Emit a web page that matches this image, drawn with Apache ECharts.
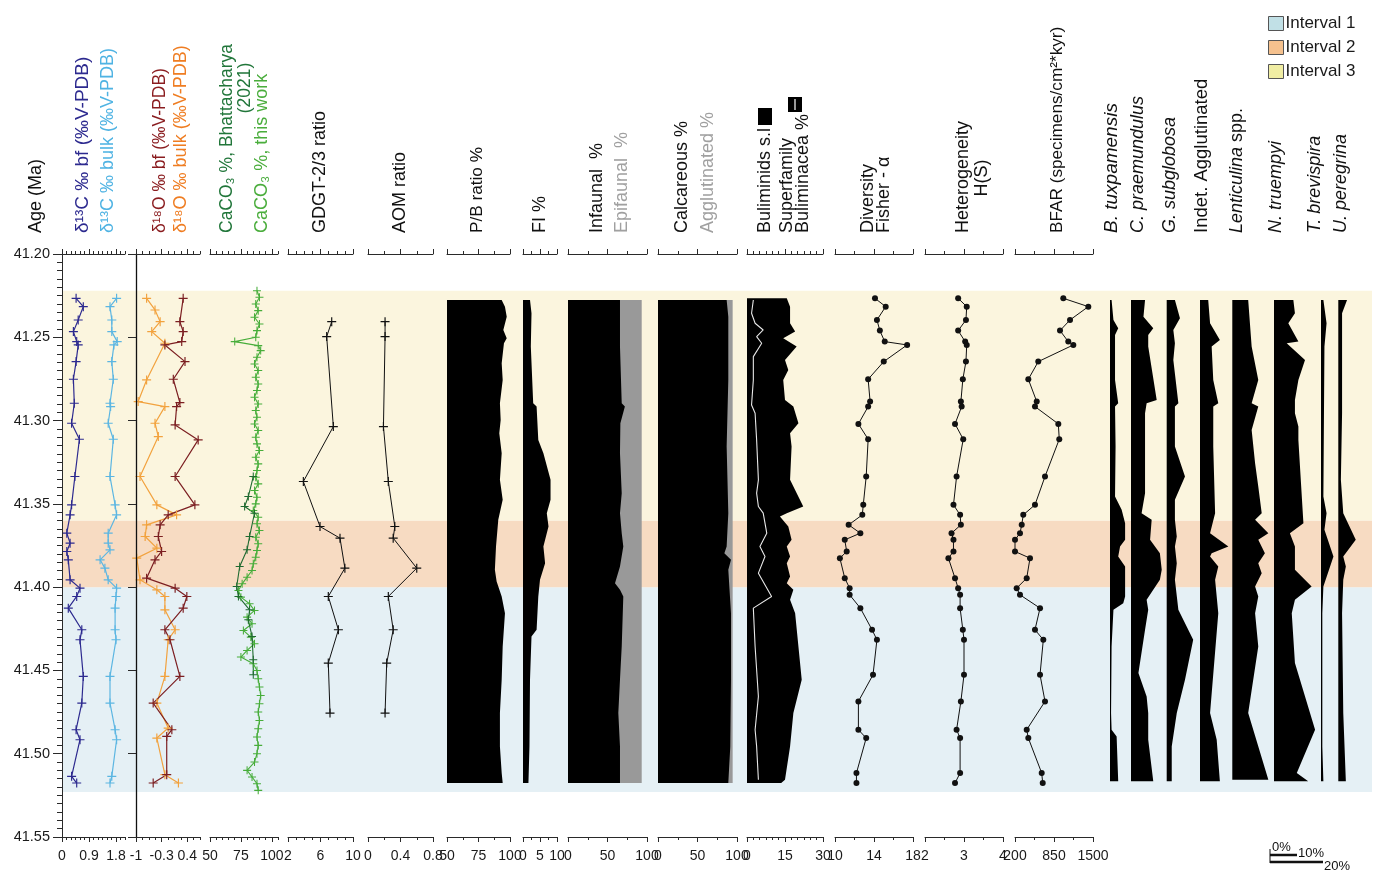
<!DOCTYPE html>
<html><head><meta charset="utf-8">
<script src="https://cdn.jsdelivr.net/npm/echarts@6/dist/echarts.min.js"></script>
<style>html,body{margin:0;padding:0;background:#fff}#c{width:1378px;height:873px}</style>
</head><body><div id="c"></div>
<script>
// ---------------- DATA (age in Ma, value) ----------------
const ageTickLabels = [41.20, 41.25, 41.30, 41.35, 41.40, 41.45, 41.50, 41.55];
const intervalNames = ['Interval 1', 'Interval 2', 'Interval 3'];
const intervalBounds = [[41.400, 41.523], [41.360, 41.400], [41.222, 41.360]];

const d13cBf = [[41.2266,0.47],[41.2316,0.71],[41.2396,0.54],[41.2466,0.38],[41.2526,0.49],[41.2546,0.54],[41.2646,0.47],[41.2752,0.38],[41.2896,0.41],[41.3016,0.32],[41.3112,0.58],[41.3336,0.43],[41.3506,0.32],[41.3566,0.27],[41.3676,0.16],[41.3736,0.27],[41.3786,0.16],[41.3836,0.21],[41.3956,0.27],[41.4006,0.60],[41.4056,0.49],[41.4126,0.21],[41.4256,0.66],[41.4316,0.60],[41.4536,0.71],[41.4696,0.66],[41.4856,0.47],[41.4916,0.60],[41.5136,0.32],[41.5176,0.49]];
const d13cBulk = [[41.2266,1.82],[41.2316,1.60],[41.2396,1.66],[41.2466,1.66],[41.2526,1.84],[41.2546,1.73],[41.2646,1.66],[41.2752,1.71],[41.2896,1.60],[41.2916,1.62],[41.3016,1.54],[41.3112,1.71],[41.3336,1.60],[41.3506,1.77],[41.3566,1.82],[41.3676,1.54],[41.3736,1.54],[41.3776,1.60],[41.3836,1.27],[41.3886,1.43],[41.3956,1.54],[41.4006,1.82],[41.4056,1.80],[41.4126,1.77],[41.4256,1.77],[41.4316,1.80],[41.4536,1.60],[41.4696,1.60],[41.4856,1.77],[41.4916,1.82],[41.5136,1.66],[41.5176,1.60]];
const d18oBf = [[41.2266,0.29],[41.2406,0.20],[41.2466,0.29],[41.2526,0.25],[41.2546,-0.21],[41.2646,0.34],[41.2752,0.02],[41.2892,0.20],[41.2916,0.11],[41.3026,0.07],[41.3116,0.70],[41.3336,0.07],[41.3506,0.61],[41.3566,-0.12],[41.3626,-0.34],[41.3696,-0.39],[41.3786,-0.30],[41.3836,-0.48],[41.3946,-0.71],[41.4006,0.07],[41.4056,0.39],[41.4126,0.29],[41.4256,-0.21],[41.4316,-0.07],[41.4536,0.20],[41.4696,-0.53],[41.4856,-0.02],[41.4896,-0.16],[41.5126,-0.16],[41.5176,-0.53]];
const d18oBulk = [[41.2266,-0.71],[41.2336,-0.48],[41.2406,-0.34],[41.2466,-0.57],[41.2536,-0.21],[41.2756,-0.71],[41.2886,-0.94],[41.2916,-0.21],[41.3016,-0.48],[41.3096,-0.39],[41.3336,-0.89],[41.3506,-0.43],[41.3566,0.11],[41.3626,-0.71],[41.3696,-0.75],[41.3766,-0.43],[41.3826,-0.98],[41.3956,-0.89],[41.4016,-0.43],[41.4056,-0.21],[41.4136,-0.21],[41.4256,0.07],[41.4316,-0.12],[41.4536,-0.21],[41.4696,-0.43],[41.4846,-0.12],[41.4906,-0.43],[41.5126,-0.21],[41.5176,0.16]];
const caco3Bhatt = [[41.3336,85],[41.3456,81],[41.3516,78],[41.3556,86],[41.3696,82],[41.3776,80],[41.3876,74],[41.3996,71.6],[41.4056,73],[41.4136,82],[41.4196,81],[41.4296,84],[41.4436,85],[41.4526,85]];
const caco3ThisWork = [[41.222,88],[41.226,90],[41.230,87],[41.234,89],[41.238,86],[41.242,90],[41.246,88],[41.250,87],[41.2526,70],[41.255,89],[41.258,91],[41.262,88],[41.266,86],[41.270,89],[41.274,87],[41.278,89],[41.282,88],[41.286,86],[41.290,89],[41.294,87],[41.298,88],[41.302,86],[41.306,89],[41.310,87],[41.314,88],[41.318,90],[41.322,87],[41.326,89],[41.330,88],[41.334,87],[41.338,89],[41.342,86],[41.346,88],[41.350,87],[41.354,85],[41.358,89],[41.362,88],[41.366,90],[41.370,87],[41.374,89],[41.378,88],[41.382,87],[41.386,85],[41.390,84],[41.394,80],[41.398,76],[41.402,73],[41.406,75],[41.410,82],[41.414,86],[41.418,80],[41.422,84],[41.426,77],[41.430,83],[41.434,86],[41.438,80],[41.442,75],[41.446,85],[41.450,88],[41.455,89],[41.460,90],[41.465,91],[41.470,90],[41.475,89],[41.480,90],[41.485,89],[41.490,88],[41.495,89],[41.500,88],[41.505,86],[41.510,80],[41.514,84],[41.518,88],[41.522,89]];
const gdgt = [[41.2406,7.38],[41.2496,6.76],[41.3036,7.58],[41.3366,3.89],[41.3636,5.94],[41.3706,8.4],[41.3886,9.0],[41.4056,6.96],[41.4256,8.2],[41.4456,6.96],[41.4756,7.17]];
const aom = [[41.2406,0.21],[41.2496,0.21],[41.3036,0.19],[41.3366,0.25],[41.3636,0.33],[41.3706,0.31],[41.3886,0.60],[41.4056,0.25],[41.4256,0.31],[41.4456,0.23],[41.4756,0.21]];
const pbRatio = [[41.2276,93.4],[41.2316,96],[41.2376,97.4],[41.2456,94.7],[41.2506,97.4],[41.2536,95.2],[41.2656,93.4],[41.2756,94.2],[41.2896,92],[41.2996,92.6],[41.3076,91.5],[41.3196,93.4],[41.3356,92],[41.3476,94.2],[41.3596,90.7],[41.3756,88.9],[41.3896,88],[41.3966,89.4],[41.4056,93.4],[41.4156,96],[41.4356,94.2],[41.4556,93.4],[41.4756,92],[41.4956,92],[41.5116,93.4],[41.5176,94.2]];
const fiPct = [[41.2276,2.06],[41.2356,2.5],[41.2556,2.3],[41.2896,3.0],[41.2916,4.0],[41.3116,4.5],[41.3196,6.0],[41.3356,8.1],[41.3476,8.1],[41.3556,7.0],[41.3636,7.5],[41.3756,6.0],[41.3856,6.5],[41.3956,5.0],[41.4056,4.5],[41.4256,4.0],[41.4296,2.5],[41.4556,2.06],[41.4956,1.9],[41.5176,1.6]];
const infaunal = [[41.2276,65.8],[41.2556,65.8],[41.2896,68],[41.2916,72],[41.3016,66.3],[41.3196,65.8],[41.3436,68],[41.3556,65.8],[41.3676,68],[41.3756,70],[41.3876,65.8],[41.3976,59.5],[41.4016,65.8],[41.4056,70],[41.4356,68],[41.4556,65.8],[41.4756,63.7],[41.4956,65.8],[41.5176,65.8]];
const epifaunal = [27.5,27.5,25.3,21.3,27.0,27.5,25.3,27.5,25.3,23.3,27.5,33.8,27.5,23.3,25.3,27.5,29.6,27.5,27.5];
const calcareous = [[41.2276,86.9],[41.2376,89],[41.2756,89],[41.3156,86.9],[41.3556,89],[41.3756,86.9],[41.3796,84.0],[41.3836,92.4],[41.3896,89],[41.4156,92.4],[41.4556,92.4],[41.4956,91.5],[41.5176,89]];
const agglutinated = [7.6,5.5,5.5,7.6,5.5,7.6,10.5,2.1,5.5,2.1,2.1,3.0,5.5];
const buliminids = [[41.2266,15.7],[41.2316,17.0],[41.2416,17.0],[41.2466,19.0],[41.2506,14.3],[41.2556,19.6],[41.2636,15.0],[41.2696,16.3],[41.2756,14.3],[41.2876,15.0],[41.2916,18.3],[41.3016,20.3],[41.3076,17.0],[41.3156,17.6],[41.3356,17.0],[41.3516,22.2],[41.3556,15.7],[41.3576,13.0],[41.3636,16.3],[41.3716,17.6],[41.3756,15.7],[41.3816,17.0],[41.3856,15.7],[41.3936,17.0],[41.3976,15.7],[41.4016,18.3],[41.4076,17.0],[41.4156,19.0],[41.4556,21.6],[41.4756,18.3],[41.4956,17.0],[41.5156,15.0],[41.5176,13.5]];
const buliminacea = [[41.2276,2.5],[41.2356,1.8],[41.2416,3.2],[41.2456,6.4],[41.2496,3.8],[41.2536,5.8],[41.2616,2.5],[41.2756,2.5],[41.2906,1.8],[41.2956,3.2],[41.3116,3.8],[41.3356,4.5],[41.3436,3.8],[41.3516,4.5],[41.3556,6.4],[41.3676,7.8],[41.3756,5.1],[41.3816,7.1],[41.3916,4.5],[41.4056,9.7],[41.4126,2.5],[41.4356,3.2],[41.4656,4.5],[41.4856,3.2],[41.4956,3.8],[41.5156,4.5]];
const benthicAges = [41.2266,41.2316,41.2396,41.2460,41.2526,41.2546,41.2646,41.2752,41.2886,41.2916,41.3020,41.3112,41.3336,41.3506,41.3566,41.3626,41.3676,41.3716,41.3786,41.3826,41.3946,41.4006,41.4046,41.4126,41.4256,41.4316,41.4526,41.4686,41.4856,41.4906,41.5116,41.5176];
const fisherAlpha = [14.1,15.2,14.3,14.6,15.1,17.4,15.0,13.4,13.6,13.4,12.4,13.4,13.2,12.9,12.8,11.4,12.6,11.0,11.2,10.5,11.0,11.5,11.5,12.6,13.8,14.3,13.9,12.4,12.4,13.2,12.2,12.2];
const heterogeneity = [2.85,3.07,3.05,2.85,3.03,3.07,3.05,2.97,2.92,2.94,2.77,2.98,2.81,2.73,2.90,2.92,2.68,2.73,2.73,2.60,2.77,2.85,2.90,2.90,2.97,3.00,3.00,2.92,2.81,2.90,2.90,2.77];
const bfar = [1005,1422,1117,950,1088,1172,588,422,562,533,922,938,700,533,338,312,283,200,200,450,395,228,283,617,533,672,617,700,395,422,645,662];
// species relative abundance (%)
const bTuxpamensis = [[41.2276,0.6],[41.2396,1.3],[41.2446,3.1],[41.2486,1.9],[41.2756,1.9],[41.2896,3.1],[41.2916,1.9],[41.3156,2.1],[41.3456,1.9],[41.3536,4.4],[41.3616,5.7],[41.3716,5.7],[41.3756,3.8],[41.3816,3.1],[41.3876,5.7],[41.4056,5.7],[41.4096,5.0],[41.4136,1.3],[41.4356,0.6],[41.4756,0.4],[41.4856,0.6],[41.4896,2.5],[41.5166,3.1]];
const cPraemundulus = [[41.2276,5.3],[41.2376,4.7],[41.2446,8.4],[41.2486,6.5],[41.2556,6.5],[41.2876,9.7],[41.2896,5.9],[41.2956,5.3],[41.3436,5.3],[41.3556,4.0],[41.3596,7.8],[41.3716,7.2],[41.3796,10.9],[41.3896,11.6],[41.3956,10.9],[41.4076,5.9],[41.4136,6.5],[41.4256,5.3],[41.4516,2.8],[41.4656,5.9],[41.4756,6.5],[41.4916,6.5],[41.5166,8.4]];
const gSubglobosa = [[41.2276,3.1],[41.2386,5.0],[41.2456,2.5],[41.2536,3.1],[41.2636,2.5],[41.2896,4.4],[41.2916,3.1],[41.3156,3.1],[41.3336,6.9],[41.3476,3.1],[41.3596,3.1],[41.3696,3.8],[41.3756,3.1],[41.3856,3.8],[41.3956,3.1],[41.4136,4.4],[41.4316,10.0],[41.4556,6.9],[41.4756,3.8],[41.4956,1.9],[41.5166,1.9]];
const indetAgglutinated = [[41.2276,3.1],[41.2416,3.8],[41.2516,7.5],[41.2556,4.4],[41.2756,5.0],[41.2896,6.9],[41.2916,5.0],[41.3156,5.0],[41.3556,5.7],[41.3676,3.8],[41.3756,10.7],[41.3796,4.4],[41.3816,3.8],[41.3876,6.9],[41.3956,5.7],[41.4156,6.9],[41.4756,3.8],[41.4916,6.3],[41.5166,7.5]];
const lenticulina = [[41.2276,6.0],[41.2556,7.3],[41.2756,9.8],[41.2896,7.3],[41.2916,9.8],[41.3056,7.3],[41.3256,8.6],[41.3396,9.8],[41.3556,11.1],[41.3596,8.6],[41.3676,13.6],[41.3716,9.8],[41.3796,12.3],[41.3856,9.8],[41.3916,11.1],[41.3996,8.6],[41.4056,9.8],[41.4156,8.6],[41.4356,9.8],[41.4756,6.0],[41.5156,13.6]];
const nTruempyi = [[41.2276,7.3],[41.2356,7.9],[41.2416,5.4],[41.2526,9.2],[41.2536,4.8],[41.2636,11.7],[41.2756,9.2],[41.2876,7.9],[41.2956,7.9],[41.3036,9.2],[41.3116,9.2],[41.3616,11.1],[41.3676,6.0],[41.3756,7.9],[41.3896,7.9],[41.3996,14.2],[41.4076,7.9],[41.4156,6.7],[41.4456,7.9],[41.4856,15.5],[41.5116,8.6],[41.5166,12.9]];
const tBrevispira = [[41.2276,0.9],[41.2416,2.1],[41.2556,1.3],[41.3456,0.9],[41.3556,2.1],[41.3656,1.3],[41.3816,4.7],[41.3996,0.9],[41.4156,0.5],[41.4956,0.5],[41.5166,0.9]];
const uPeregrina = [[41.2276,4.4],[41.2356,1.9],[41.2956,1.9],[41.3356,1.3],[41.3556,2.5],[41.3716,8.8],[41.3816,2.5],[41.3876,3.8],[41.3956,2.5],[41.4156,1.9],[41.4756,2.5],[41.5166,3.8]];

// ---------------- STYLE / LAYOUT ----------------
const FONT = "'Liberation Sans', Arial, Helvetica, sans-serif";
const AX = '#2a2a2a';
const TOP = 254, HEIGHT = 583;
const AGE_MIN = 41.20, AGE_MAX = 41.55;
const bandColors = ['#e5f0f5', '#f7dbc2', '#fbf5de'];
const legendColors = ['#c1e0e6', '#f5c18e', '#f0eda3'];
const PLUS = 'path://M4.35,0H5.65V4.35H10V5.65H5.65V10H4.35V5.65H0V4.35H4.35Z';

const grids = [], xAxes = [], yAxes = [], series = [];
const fmt = v => String(v);

function panel(left, width, min, max, majors, minors, showAxes) {
  const g = grids.length;
  grids.push({left: left, top: TOP, width: width, height: HEIGHT});
  const yi = yAxes.length;
  yAxes.push({gridIndex: g, type: 'value', inverse: true, min: AGE_MIN, max: AGE_MAX, show: false});
  const xi = xAxes.length;
  const base = {gridIndex: g, type: 'value', min: min, max: max, splitLine: {show: false}, z: 6};
  if (!showAxes) { xAxes.push(Object.assign({}, base, {show: false})); return {g, xi, yi}; }
  const line = {show: true, onZero: false, lineStyle: {color: AX, width: 1}};
  ['bottom', 'top'].forEach(pos => {
    xAxes.push(Object.assign({}, base, {position: pos, axisLine: line,
      axisTick: {show: true, customValues: majors, length: 5, lineStyle: {color: AX, width: 1}},
      axisLabel: pos === 'bottom' ? {show: true, customValues: majors, margin: 12, fontSize: 14, fontFamily: FONT, color: '#1a1a1a', formatter: fmt} : {show: false}}));
    xAxes.push(Object.assign({}, base, {position: pos, axisLine: {show: false, onZero: false},
      axisTick: {show: true, customValues: minors, length: 3, lineStyle: {color: AX, width: 1}},
      axisLabel: {show: false}}));
  });
  return {g, xi, yi};
}
function lineSeries(p, data, color, symbol, size, width) {
  series.push({type: 'line', xAxisIndex: p.xi, yAxisIndex: p.yi, z: 4, animation: false,
    data: data.map(d => [d[1], d[0]]), symbol: symbol, symbolSize: size, showSymbol: true,
    lineStyle: {color: color, width: width}, itemStyle: {color: color}});
}
function areaSeries(p, data, base, color) {
  const pts = data.map(d => [d[1], d[0]]);
  series.push({type: 'custom', xAxisIndex: p.xi, yAxisIndex: p.yi, z: 3, animation: false, silent: true,
    data: pts,
    renderItem: (params, api) => {
      if (params.dataIndex !== 0) return null;
      const poly = [api.coord([base, pts[0][1]])];
      pts.forEach(q => poly.push(api.coord(q)));
      poly.push(api.coord([base, pts[pts.length - 1][1]]));
      return {type: 'polygon', shape: {points: poly}, style: {fill: color}};
    }});
}

// background bands
const bg = panel(62, 1310, 0, 1, [], [], false);
intervalNames.forEach((nm, i) => {
  const b = intervalBounds[i];
  series.push({type: 'custom', name: nm, xAxisIndex: bg.xi, yAxisIndex: bg.yi, z: 1, silent: true, animation: false,
    itemStyle: {color: legendColors[i], borderColor: '#555', borderWidth: 1},
    data: [[0, b[0]], [1, b[1]]],
    renderItem: (params, api) => {
      if (params.dataIndex !== 0) return null;
      const p0 = api.coord([0, b[0]]), p1 = api.coord([1, b[1]]);
      return {type: 'rect', shape: {x: p0[0], y: p0[1], width: p1[0] - p0[0], height: p1[1] - p0[1]}, style: {fill: bandColors[i]}};
    }});
});

// δ13C (with age axis)
const pC = panel(62, 63, 0, 2.1, [0, 0.9, 1.8], [0.15,0.3,0.45,0.6,0.75,1.05,1.2,1.35,1.5,1.65,1.95,2.1], true);
const ageMinor = [];
for (let k = 1; k < 70; k++) if (k % 10) ageMinor.push(+(41.2 + k * 0.005).toFixed(3));
yAxes[pC.yi] = {gridIndex: pC.g, type: 'value', inverse: true, min: AGE_MIN, max: AGE_MAX, position: 'left', z: 6,
  splitLine: {show: false},
  axisLine: {show: true, onZero: false, lineStyle: {color: AX, width: 1}},
  axisTick: {show: true, customValues: ageTickLabels, length: 9, lineStyle: {color: AX}},
  axisLabel: {show: true, customValues: ageTickLabels, margin: 12, fontSize: 14.5, fontFamily: FONT, color: '#1a1a1a', formatter: v => v.toFixed(2)}};
yAxes.push({gridIndex: pC.g, type: 'value', inverse: true, min: AGE_MIN, max: AGE_MAX, position: 'left', z: 6,
  splitLine: {show: false}, axisLine: {show: false, onZero: false},
  axisTick: {show: true, customValues: ageMinor, length: 5, lineStyle: {color: AX}}, axisLabel: {show: false}});
lineSeries(pC, d13cBulk, '#5cb6e2', PLUS, 9, 1.2);
lineSeries(pC, d13cBf, '#2d2a8f', PLUS, 9, 1.2);

// δ18O
const pO = panel(136, 64, -1, 0.75, [-1, -0.3, 0.4], [-0.825,-0.65,-0.475,-0.125,0.05,0.225,0.575,0.75], true);
yAxes[pO.yi] = {gridIndex: pO.g, type: 'value', inverse: true, min: AGE_MIN, max: AGE_MAX, position: 'left', z: 6,
  splitLine: {show: false},
  axisLine: {show: true, onZero: false, lineStyle: {color: '#111', width: 1.3}},
  axisTick: {show: true, customValues: ageTickLabels, length: 8, lineStyle: {color: AX}},
  axisLabel: {show: false}};
lineSeries(pO, d18oBulk, '#f2a23e', PLUS, 9, 1.2);
lineSeries(pO, d18oBf, '#7c1f22', PLUS, 9, 1.2);

// CaCO3
const pCa = panel(210, 68, 50, 105, [50, 75, 100], [55,60,65,70,80,85,90,95,105], true);
lineSeries(pCa, caco3ThisWork, '#47ad3a', PLUS, 8, 1.1);
lineSeries(pCa, caco3Bhatt, '#1f6a30', PLUS, 8, 1.1);

// GDGT
const pG = panel(288, 65, 2, 10, [2, 6, 10], [3,4,5,7,8,9], true);
lineSeries(pG, gdgt, '#111', PLUS, 9, 1);
// AOM
const pA = panel(368, 65, 0, 0.8, [0, 0.4, 0.8], [0.2, 0.6], true);
lineSeries(pA, aom, '#111', PLUS, 9, 1);
// P/B
const pP = panel(447, 63, 50, 100, [50, 75, 100], [62.5, 87.5], true);
areaSeries(pP, pbRatio, 50, '#000');
// FI
const pF = panel(523, 34, 0, 10, [0, 5, 10], [2.5, 7.5], true);
areaSeries(pF, fiPct, 0, '#000');
// Infaunal / Epifaunal
const pI = panel(568, 79, 0, 100, [0, 50, 100], [25, 75], true);
areaSeries(pI, infaunal.map((d, i) => [d[0], d[1] + epifaunal[i]]), 0, '#999999');
areaSeries(pI, infaunal, 0, '#000');
// Calcareous / Agglutinated
const pK = panel(658, 79, 0, 100, [0, 50, 100], [25, 75], true);
areaSeries(pK, calcareous.map((d, i) => [d[0], d[1] + agglutinated[i]]), 0, '#999999');
areaSeries(pK, calcareous, 0, '#000');
// Buliminids
const pB = panel(747, 76, 0, 30, [0, 15, 30], [2.5,5,7.5,10,12.5,17.5,20,22.5,25,27.5], true);
areaSeries(pB, buliminids, 0, '#000');
lineSeries(pB, buliminacea, '#e8e8e8', 'none', 0, 1.1);
// Diversity
const pD = panel(835, 78, 10, 18, [10, 14, 18], [12, 16], true);
lineSeries(pD, benthicAges.map((a, i) => [a, fisherAlpha[i]]), '#111', 'circle', 6, 1);
// Heterogeneity
const pH = panel(925, 78, 2, 4, [2, 3, 4], [2.5, 3.5], true);
lineSeries(pH, benthicAges.map((a, i) => [a, heterogeneity[i]]), '#111', 'circle', 6, 1);
// BFAR
const pR = panel(1015, 78, 200, 1500, [200, 850, 1500], [525, 1175], true);
lineSeries(pR, benthicAges.map((a, i) => [a, bfar[i]]), '#111', 'circle', 6, 1);

// species panels (10% = 26.5 px)
const speciesData = [bTuxpamensis, cPraemundulus, gSubglobosa, indetAgglutinated, lenticulina, nTruempyi, tBrevispira, uPeregrina];
const speciesBase = [1110, 1131, 1166.7, 1200, 1232.3, 1274, 1321, 1338.3];
speciesData.forEach((d, i) => {
  const p = panel(speciesBase[i], 53, 0, 20, [], [], false);
  areaSeries(p, d, 0, '#000');
});

// ---------------- HEADERS ----------------
const headers = [
  {t: 'Age (Ma)', x: 36},
  {t: 'δ¹³C ‰ bf (‰V-PDB)', x: 83, c: '#2d2a8f', f: 19},
  {t: 'δ¹³C ‰ bulk (‰V-PDB)', x: 108, c: '#4fb3e3'},
  {t: 'δ¹⁸O ‰ bf (‰V-PDB)', x: 160, c: '#8a1c1f', f: 17.5},
  {t: 'δ¹⁸O ‰ bulk (‰V-PDB)', x: 181, c: '#ef7d22'},
  {t: 'CaCO₃ %, Bhattacharya', x: 227, c: '#21763a', f: 17.5},
  {t: '(2021)', x: 245, y: 88, c: '#21763a', center: true, f: 17.5},
  {t: 'CaCO₃ %, this work', x: 262, c: '#4aad3c'},
  {t: 'GDGT-2/3 ratio', x: 320},
  {t: 'AOM ratio', x: 400},
  {t: 'P/B ratio %', x: 477, f: 17.2},
  {t: 'FI %', x: 540},
  {t: 'Infaunal  %', x: 597},
  {t: 'Epifaunal  %', x: 622, c: '#a0a0a0'},
  {t: 'Calcareous %', x: 682},
  {t: 'Agglutinated %', x: 708, c: '#a0a0a0'},
  {t: 'Buliminids s.l', x: 765},
  {t: 'Superfamily', x: 787},
  {t: 'Buliminacea %', x: 803},
  {t: 'Diversity', x: 868},
  {t: 'Fisher - α', x: 884},
  {t: 'Heterogeneity', x: 963},
  {t: 'H(S)', x: 982, y: 178, center: true},
  {t: 'BFAR (specimens/cm²*kyr)', x: 1057, f: 17.2},
  {t: 'B. tuxpamensis', x: 1112, it: true, f: 19},
  {t: 'C. praemundulus', x: 1138, it: true},
  {t: 'G. subglobosa', x: 1170, it: true},
  {t: 'Indet. Agglutinated', x: 1202, f: 18.5},
  {t: '{i|Lenticulina} spp.', x: 1237},
  {t: 'N. truempyi', x: 1276, it: true},
  {t: 'T. brevispira', x: 1315, it: true},
  {t: 'U. peregrina', x: 1341, it: true}
];
const graphics = headers.map(h => ({
  type: 'text', x: h.x, y: h.y || 233, rotation: Math.PI / 2, silent: true,
  style: {text: h.t, fill: h.c || '#111', fontSize: h.f || 18, fontFamily: FONT, fontStyle: h.it ? 'italic' : 'normal',
    align: h.center ? 'center' : 'left', verticalAlign: 'middle',
    textAlign: h.center ? 'center' : 'left', textVerticalAlign: 'middle',
    rich: {i: {fontStyle: 'italic', fontSize: h.f || 18, fontFamily: FONT, fill: h.c || '#111'}}}
}));
// header key symbols
graphics.push({type: 'rect', shape: {x: 758, y: 108, width: 14, height: 17}, style: {fill: '#000'}, silent: true});
graphics.push({type: 'rect', shape: {x: 788, y: 97, width: 14, height: 15}, style: {fill: '#000'}, silent: true});
graphics.push({type: 'line', shape: {x1: 795, y1: 99, x2: 795, y2: 110}, style: {stroke: '#fff', lineWidth: 1.2}, silent: true});
// scale bar
graphics.push({type: 'line', shape: {x1: 1270, y1: 849, x2: 1270, y2: 863}, style: {stroke: '#111', lineWidth: 1}, silent: true});
graphics.push({type: 'line', shape: {x1: 1270, y1: 855, x2: 1297, y2: 855}, style: {stroke: '#111', lineWidth: 2.5}, silent: true});
graphics.push({type: 'line', shape: {x1: 1270, y1: 862, x2: 1323, y2: 862}, style: {stroke: '#111', lineWidth: 2.5}, silent: true});
[['0%', 1272, 847], ['10%', 1298, 853], ['20%', 1324, 866]].forEach(s => graphics.push({
  type: 'text', x: s[1], y: s[2], silent: true,
  style: {text: s[0], fill: '#111', fontSize: 13, fontFamily: FONT, align: 'left', verticalAlign: 'middle', textAlign: 'left', textVerticalAlign: 'middle'}}));

const chart = echarts.init(document.getElementById('c'), null, {renderer: 'canvas'});
chart.setOption({
  animation: false,
  backgroundColor: '#ffffff',
  grid: grids, xAxis: xAxes, yAxis: yAxes, series: series,
  legend: {data: intervalNames, orient: 'vertical', left: 1263, top: 10, itemWidth: 15, itemHeight: 14, itemGap: 7,
    icon: 'rect', selectedMode: false,
    itemStyle: {borderColor: '#555', borderWidth: 1},
    textStyle: {fontSize: 17, fontFamily: FONT, color: '#1a1a1a', padding: [0, 0, 0, -3]}},
  graphic: {elements: graphics}
});
</script>
</body></html>
